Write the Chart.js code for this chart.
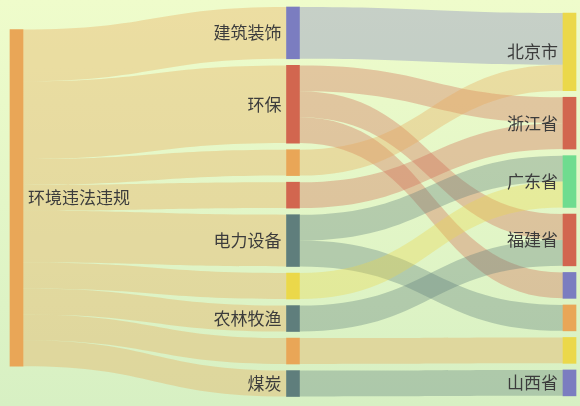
<!DOCTYPE html>
<html>
<head>
<meta charset="utf-8">
<script src="https://cdn.jsdelivr.net/npm/chart.js@4.4.0/dist/chart.umd.min.js"></script>
<style>
html, body { margin: 0; padding: 0; }
body { width: 580px; height: 406px; overflow: hidden; background: linear-gradient(#effccb, #d7f0c3); }
#wrap { width: 580px; height: 406px; }
</style>
</head>
<body>
<div id="wrap"><canvas id="sankey"></canvas></div>
<script>
// nodes (index = id), empty label = node drawn without text
var nodeLabels = ['环境违法违规', '建筑装饰', '环保', '', '', '电力设备', '', '农林牧渔', '', '煤炭',
                  '北京市', '浙江省', '广东省', '福建省', '', '', '', '山西省'];
var nodeColumn = [0, 1, 1, 1, 1, 1, 1, 1, 1, 1, 2, 2, 2, 2, 2, 2, 2, 2];

// links
var linkSource = [0, 0, 0, 0, 0, 0, 0, 0, 0, 1, 2, 2, 2, 3, 4, 5, 5, 6, 7, 8, 9];
var linkTarget = [1, 2, 3, 4, 5, 6, 7, 8, 9, 10, 11, 13, 14, 10, 11, 12, 15, 12, 13, 16, 17];
var linkValue = [2, 3, 1, 1, 2, 1, 1, 1, 1, 2, 1, 1, 1, 1, 1, 1, 1, 1, 1, 1, 1];

// styles
var orange = '#e9a657', purple = '#7b7dc0', red = '#d2664f', slate = '#5f7e7c', yellow = '#ebd84a', green = '#6fdc8f';
var nodeColor = [orange, purple, red, orange, red, slate, yellow, slate, orange, slate,
                 yellow, red, green, red, purple, orange, yellow, purple];
var nodeWidth = 13;
var nodeGap = 0.255;          // in value units
var colTop = [0.87, 0, 0.23]; // column offsets in value units
var linkOpacity = 0.35;

// layout: node value = max(in, out), stack nodes per column
var inSum = [], outSum = [];
nodeLabels.forEach(function (n, i) { inSum[i] = 0; outSum[i] = 0; });
linkValue.forEach(function (v, k) {
    outSum[linkSource[k]] += v;
    inSum[linkTarget[k]] += v;
});
var nodeValue = nodeLabels.map(function (n, i) { return Math.max(inSum[i], outSum[i]); });
var nodeY0 = [], nodeY1 = [];
var colCursor = colTop.slice();
nodeLabels.forEach(function (n, i) {
    var c = nodeColumn[i];
    nodeY0[i] = colCursor[c];
    nodeY1[i] = colCursor[c] + nodeValue[i];
    colCursor[c] = nodeY1[i] + nodeGap;
});
var maxY = Math.max.apply(null, colCursor) - nodeGap;

// link offsets: outgoing sorted by target y, incoming sorted by source y
var linkSy = [], linkTy = [];
nodeLabels.forEach(function (n, i) {
    var outs = [], ins = [];
    linkValue.forEach(function (v, k) {
        if (linkSource[k] === i) outs.push(k);
        if (linkTarget[k] === i) ins.push(k);
    });
    outs.sort(function (a, b) { return nodeY0[linkTarget[a]] - nodeY0[linkTarget[b]]; });
    ins.sort(function (a, b) { return nodeY0[linkSource[a]] - nodeY0[linkSource[b]]; });
    var y = nodeY0[i];
    outs.forEach(function (k) { linkSy[k] = y; y += linkValue[k]; });
    y = nodeY0[i];
    ins.forEach(function (k) { linkTy[k] = y; y += linkValue[k]; });
});

var sankeyPlugin = {
    id: 'sankeyLinks',
    beforeDatasetsDraw: function (chart) {
        var ctx = chart.ctx, xs = chart.scales.x, ys = chart.scales.y;
        ctx.save();
        ctx.globalAlpha = linkOpacity;
        linkValue.forEach(function (v, k) {
            var s = linkSource[k], t = linkTarget[k];
            var x0 = xs.getPixelForValue(nodeColumn[s]) + nodeWidth / 2;
            var x1 = xs.getPixelForValue(nodeColumn[t]) - nodeWidth / 2;
            var s0 = ys.getPixelForValue(linkSy[k]), s1 = ys.getPixelForValue(linkSy[k] + v);
            var t0 = ys.getPixelForValue(linkTy[k]), t1 = ys.getPixelForValue(linkTy[k] + v);
            var xm = (x0 + x1) / 2;
            ctx.beginPath();
            ctx.moveTo(x0, s0);
            ctx.bezierCurveTo(xm, s0, xm, t0, x1, t0);
            ctx.lineTo(x1, t1);
            ctx.bezierCurveTo(xm, t1, xm, s1, x0, s1);
            ctx.closePath();
            ctx.fillStyle = nodeColor[s];
            ctx.fill();
        });
        ctx.restore();
    },
    afterDatasetsDraw: function (chart) {
        var ctx = chart.ctx, xs = chart.scales.x, ys = chart.scales.y;
        ctx.save();
        ctx.font = '17px "Noto Sans CJK SC", sans-serif';
        ctx.fillStyle = '#3c3c3c';
        ctx.textBaseline = 'middle';
        nodeLabels.forEach(function (label, i) {
            if (!label) return;
            var cx = xs.getPixelForValue(nodeColumn[i]);
            var cy = ys.getPixelForValue((nodeY0[i] + nodeY1[i]) / 2);
            if (nodeColumn[i] === 0) {
                ctx.textAlign = 'left';
                ctx.fillText(label, cx + nodeWidth / 2 + 5, cy);
            } else {
                ctx.textAlign = 'right';
                ctx.fillText(label, cx - nodeWidth / 2 - 5, cy);
            }
        });
        ctx.restore();
    }
};

new Chart(document.getElementById('sankey'), {
    type: 'bar',
    data: {
        datasets: [{
            data: nodeLabels.map(function (n, i) { return {x: nodeColumn[i], y: [nodeY0[i], nodeY1[i]]}; }),
            backgroundColor: nodeColor,
            barThickness: nodeWidth,
            borderWidth: 0,
            clip: false
        }]
    },
    options: {
        responsive: true,
        maintainAspectRatio: false,
        animation: false,
        layout: {padding: {left: 16.5, right: 10.5, top: 7, bottom: 9.5}},
        plugins: {legend: {display: false}, tooltip: {enabled: false}},
        scales: {
            x: {type: 'linear', min: 0, max: 2, display: false, offset: false},
            y: {min: 0, max: maxY, reverse: true, display: false}
        }
    },
    plugins: [sankeyPlugin]
});
</script>
</body>
</html>
